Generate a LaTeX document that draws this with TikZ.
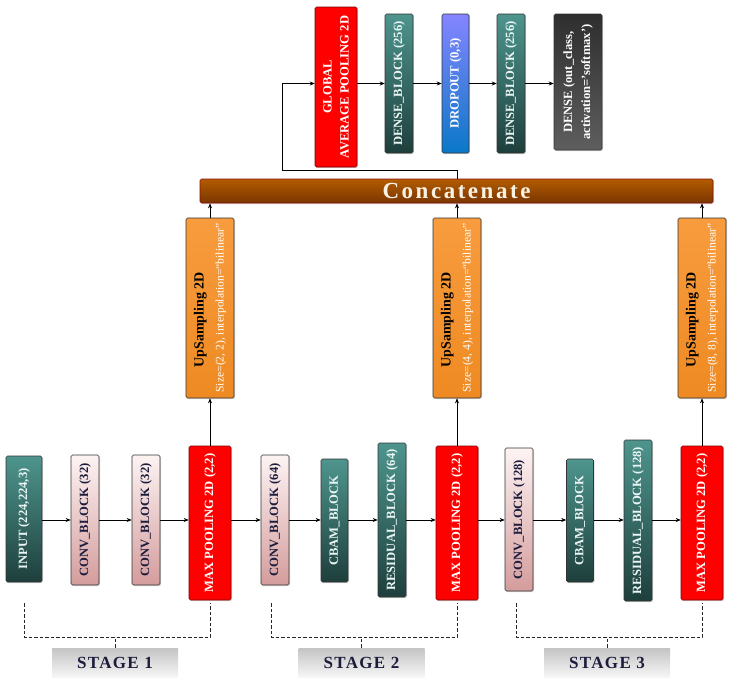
\documentclass[tikz,border=0pt]{standalone}
\usepackage{fontspec}
\setmainfont{Liberation Serif}
\usetikzlibrary{arrows.meta,shadows}
\definecolor{tealT}{HTML}{4E958D}
\definecolor{tealB}{HTML}{1E3F3C}
\definecolor{convT}{HTML}{FDF3F3}
\definecolor{convB}{HTML}{D49C9C}
\definecolor{redF}{HTML}{FF0000}
\definecolor{redD}{HTML}{7A0000}
\definecolor{dropT}{HTML}{8585FF}
\definecolor{dropB}{HTML}{0A78C8}
\definecolor{dnsT}{HTML}{2E2E2E}
\definecolor{dnsB}{HTML}{5E5E5E}
\definecolor{orT}{HTML}{F89C3E}
\definecolor{orB}{HTML}{EE8A22}
\definecolor{catT}{HTML}{B35C00}
\definecolor{catB}{HTML}{7A3500}
\definecolor{catD}{HTML}{8B1010}
\definecolor{stgT}{HTML}{C4C4C4}
\definecolor{stgB}{HTML}{F6F6F6}
\definecolor{navy}{HTML}{1C1C3C}
\definecolor{pale}{HTML}{EAF6F6}
\definecolor{cream}{HTML}{F8F2E4}
\begin{document}
\begin{tikzpicture}[x=1pt,y=-1pt,
  bx/.style={draw=black!80, line width=0.6pt, rounded corners=1.5pt, inner sep=0pt,
    drop shadow={shadow xshift=1.2pt,shadow yshift=-1.2pt,opacity=0.3}},
  lbl/.style={rotate=90, align=center, inner sep=0pt, font=\bfseries\fontsize{12.6}{14}\selectfont},
  tealbox/.style={bx, top color=tealT, bottom color=tealB},
  convbox/.style={bx, top color=convT, bottom color=convB},
  redbox/.style={bx, fill=redF, draw=redD},
  dropbox/.style={bx, top color=dropT, bottom color=dropB},
  dnsbox/.style={bx, top color=dnsT, bottom color=dnsB},
  upbox/.style={bx, top color=orT, bottom color=orB, minimum width=48pt, minimum height=180pt},
  catbox/.style={bx, draw=catD, top color=catT, bottom color=catB},
  stgbox/.style={top color=stgT, bottom color=stgB, draw=none, inner sep=0pt,
    minimum width=126pt, minimum height=29pt, text=navy,
    font=\bfseries\fontsize{17}{19}\selectfont\addfontfeatures{LetterSpace=8}},
  arr/.style={-{Stealth[length=5pt,width=4pt]}, line width=0.6pt, black},
  dsh/.style={line width=0.75pt, draw=black!85, dash pattern=on 3.5pt off 2pt}
]
\useasboundingbox (0,0) rectangle (734,678);
\fill[white] (0,0) rectangle (734,678);
\coordinate (rowy) at (0,520);

% ---- bottom row ----
\node[tealbox, minimum width=36pt, minimum height=126pt, label={[lbl,text=pale]center:INPUT (224,224,3)}] (in) at (24,519) {};
\node[convbox, minimum width=28pt, minimum height=130pt, label={[lbl,text=navy]center:CONV\_BLOCK (32)}] (c1) at (85,520) {};
\node[convbox, minimum width=28pt, minimum height=130pt, label={[lbl,text=navy]center:CONV\_BLOCK (32)}] (c2) at (146,520) {};
\node[redbox, minimum width=42pt, minimum height=154pt, label={[lbl,text=white]center:MAX POOLING 2D (2,2)}] (mp1) at (210,523) {};
\node[convbox, minimum width=28pt, minimum height=130pt, label={[lbl,text=navy]center:CONV\_BLOCK (64)}] (c3) at (275,520) {};
\node[tealbox, minimum width=27pt, minimum height=123pt, label={[lbl,text=pale]center:CBAM\_BLOCK}] (cb1) at (334.5,520.5) {};
\node[tealbox, minimum width=28pt, minimum height=154pt, label={[lbl,text=pale]center:RESIDUAL\_BLOCK (64)}] (r1) at (392,520) {};
\node[redbox, minimum width=42pt, minimum height=154pt, label={[lbl,text=white]center:MAX POOLING 2D (2,2)}] (mp2) at (457,523) {};
\node[convbox, minimum width=28pt, minimum height=143pt, label={[lbl,text=navy]center:CONV\_BLOCK (128)}] (c4) at (519,519.5) {};
\node[tealbox, minimum width=27pt, minimum height=123pt, label={[lbl,text=pale]center:CBAM\_BLOCK}] (cb2) at (580,520.5) {};
\node[tealbox, minimum width=28pt, minimum height=161pt, label={[lbl,text=pale]center:RESIDUAL\_BLOCK (128)}] (r2) at (638,520.5) {};
\node[redbox, minimum width=42pt, minimum height=154pt, label={[lbl,text=white]center:MAX POOLING 2D (2,2)}] (mp3) at (702,523) {};

\foreach \a/\b in {in/c1,c1/c2,c2/mp1,mp1/c3,c3/cb1,cb1/r1,r1/mp2,mp2/c4,c4/cb2,cb2/r2,r2/mp3}
  \draw[arr] (\a.east |- rowy) -- (\b.west |- rowy);

% ---- upsampling ----
\foreach \n/\x/\s in {u1/210/2, u2/457/4, u3/702/8}
  \node[upbox, label={[lbl]center:{\fontsize{14}{16}\selectfont UpSampling 2D}\hspace*{24pt}\\[6pt]
     {\mdseries\color{white}\fontsize{11.6}{13}\selectfont Size=(\s, \s), interpolation=``bilinear''}}] (\n) at (\x,308) {};
\draw[arr] (mp1.north) -- (u1.south);
\draw[arr] (mp2.north) -- (u2.south);
\draw[arr] (mp3.north) -- (u3.south);

% ---- concatenate ----
\node[catbox, minimum width=513pt, minimum height=24pt, text=cream,
  font=\bfseries\fontsize{23}{25}\selectfont\addfontfeatures{LetterSpace=11}] (cat) at (456.5,191) {Concatenate};
\draw[arr] (u1.north) -- (u1.north |- cat.south);
\draw[arr] (u2.north) -- (u2.north |- cat.south);
\draw[arr] (u3.north) -- (u3.north |- cat.south);

% ---- top row ----
\node[redbox, minimum width=42pt, minimum height=160pt, label={[lbl,text=white]center:GLOBAL\\[3pt]AVERAGE POOLING 2D}] (gap) at (336,87) {};
\node[tealbox, minimum width=28pt, minimum height=139pt, label={[lbl,text=pale]center:DENSE\_BLOCK (256)}] (db1) at (399,83.5) {};
\node[dropbox, minimum width=27pt, minimum height=139pt, label={[lbl,text=white]center:DROPOUT (0,3)}] (drop) at (455.5,83.5) {};
\node[tealbox, minimum width=28pt, minimum height=139pt, label={[lbl,text=pale]center:DENSE\_BLOCK (256)}] (db2) at (511,83.5) {};
\node[dnsbox, minimum width=48pt, minimum height=136pt, label={[lbl,text=white]center:DENSE (out\_class,\\[4pt]activation='softmax')}] (dns) at (578,82) {};

\coordinate (fb) at (282,170);
\draw[arr] (cat.north -| u2.north) |- (fb) |- (gap.west |- db1.west);
\draw[arr] (gap.east |- db1.west) -- (db1.west);
\draw[arr] (db1.east) -- (drop.west);
\draw[arr] (drop.east) -- (db2.west);
\draw[arr] (db2.east) -- (dns.west |- db2.east);

% ---- stages ----
\node[stgbox] (s1) at (115,662.5) {STAGE 1};
\node[stgbox] (s2) at (361.5,662.5) {STAGE 2};
\node[stgbox] (s3) at (607,662.5) {STAGE 3};

\coordinate (a1) at (24,603);  \coordinate (b1) at (210,603);
\coordinate (a2) at (271,603); \coordinate (b2) at (457,603);
\coordinate (a3) at (516,603); \coordinate (b3) at (702,603);
\foreach \i in {1,2,3}{
  \draw[dsh] (a\i) -- ++(0,34) -| (b\i);
  \draw[dsh] (s\i.north) -- ++(0,-11);
}
\end{tikzpicture}
\end{document}
